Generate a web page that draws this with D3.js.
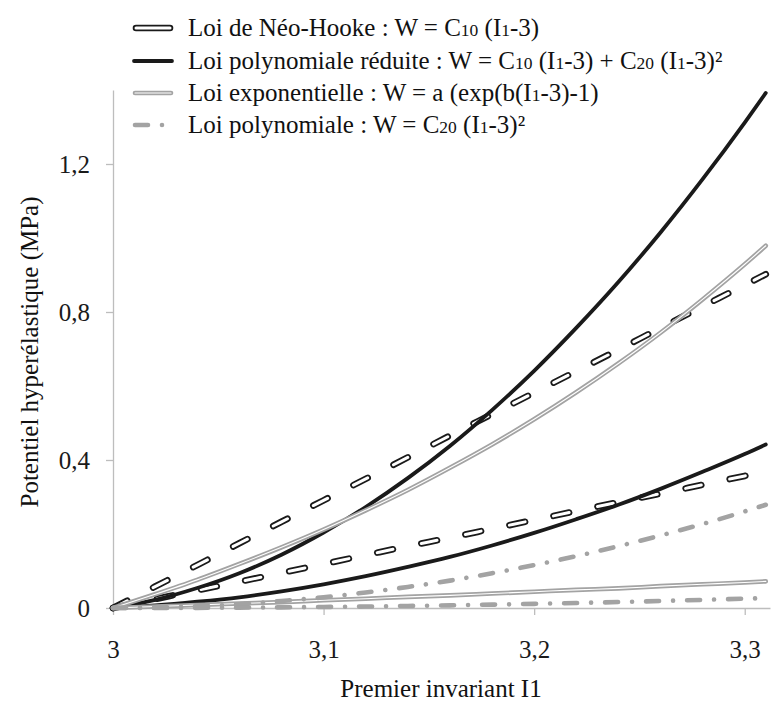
<!DOCTYPE html>
<html><head><meta charset="utf-8">
<script src="https://cdn.jsdelivr.net/npm/d3@7"></script>
<style>body{margin:0;background:#fff}svg{display:block}</style>
</head><body><svg id="c" width="777" height="702"></svg>
<script>
// ---- data ----
const I1 = [3.00,3.02,3.04,3.06,3.08,3.10,3.12,3.14,3.16,3.18,3.20,3.22,3.24,3.26,3.28,3.30,3.31];
const neoHookeA = [0,0.058,0.116,0.175,0.233,0.291,0.349,0.407,0.466,0.524,0.582,0.640,0.698,0.757,0.815,0.873,0.902];
const neoHookeB = [0,0.024,0.048,0.071,0.095,0.119,0.143,0.167,0.190,0.214,0.238,0.262,0.286,0.309,0.333,0.357,0.369];
const polyRedA = [0,0.022,0.054,0.094,0.144,0.204,0.273,0.351,0.438,0.535,0.641,0.757,0.881,1.015,1.159,1.312,1.392];
const polyRedB = [0,0.007,0.017,0.029,0.045,0.064,0.086,0.111,0.138,0.169,0.203,0.240,0.279,0.322,0.368,0.416,0.442];
const expA = [0,0.037,0.076,0.119,0.164,0.212,0.264,0.319,0.379,0.442,0.510,0.583,0.661,0.744,0.834,0.929,0.979];
const expB = [0,0.004,0.008,0.012,0.016,0.021,0.025,0.030,0.034,0.039,0.044,0.049,0.053,0.059,0.064,0.069,0.072];
const polyA = [0,0.001,0.005,0.010,0.019,0.029,0.042,0.057,0.074,0.094,0.116,0.140,0.167,0.196,0.227,0.261,0.279];
const polyB = [0,0.0001,0.0004,0.0010,0.0018,0.0028,0.0040,0.0055,0.0072,0.0091,0.0112,0.0136,0.0161,0.0189,0.0220,0.0252,0.0269];
const xTicks = [3, 3.1, 3.2, 3.3];
const xTickLabels = ["3", "3,1", "3,2", "3,3"];
const yTicks = [0, 0.4, 0.8, 1.2];
const yTickLabels = ["0", "0,4", "0,8", "1,2"];

const FONT = "'Liberation Serif','Times New Roman',serif";
const FS = 25, SUB = 17.5;
const GRAY = "#a3a3a3", BLACK = "#1a1a1a", AXIS = "#bdbdbd";

const svg = d3.select("#c");
const x = d3.scaleLinear().domain([3, 3.312]).range([113, 770]);
const y = d3.scaleLinear().domain([0, 1.4]).range([608, 90]);

// axes
const gx = svg.append("g").attr("transform", "translate(0,608)")
  .call(d3.axisBottom(x).tickValues(xTicks).tickFormat((d,i)=>xTickLabels[i]).tickSize(7).tickSizeOuter(0).tickPadding(25));
const gy = svg.append("g").attr("transform", "translate(113,0)")
  .call(d3.axisLeft(y).tickValues(yTicks).tickFormat((d,i)=>yTickLabels[i]).tickSize(7).tickSizeOuter(0).tickPadding(16));
[gx, gy].forEach(g => {
  g.selectAll("path,line").attr("stroke", AXIS).attr("stroke-width", 1.3);
  g.selectAll("text").attr("font-family", FONT).attr("font-size", FS).attr("fill", "#1a1a1a");
});

const line = d3.line().x((d,i)=>x(I1[i])).y(d=>y(d)).curve(d3.curveMonotoneX);
const plot = svg.append("g");

function hollowDash(data) {
  plot.append("path").attr("d", line(data)).attr("fill","none").attr("stroke", BLACK)
    .attr("stroke-width", 6.6).attr("stroke-linecap","round").attr("stroke-dasharray","16,29");
  plot.append("path").attr("d", line(data)).attr("fill","none").attr("stroke", "#fff")
    .attr("stroke-width", 3).attr("stroke-linecap","round").attr("stroke-dasharray","16,29");
}
function solidBlack(data) {
  plot.append("path").attr("d", line(data)).attr("fill","none").attr("stroke", BLACK)
    .attr("stroke-width", 3.8).attr("stroke-linecap","round");
}
function grayDouble(data) {
  plot.append("path").attr("d", line(data)).attr("fill","none").attr("stroke", GRAY)
    .attr("stroke-width", 4.6).attr("stroke-linecap","round");
  plot.append("path").attr("d", line(data)).attr("fill","none").attr("stroke", "#fff")
    .attr("stroke-width", 1.1).attr("stroke-linecap","round");
}
function grayDashDot(data) {
  plot.append("path").attr("d", line(data)).attr("fill","none").attr("stroke", GRAY)
    .attr("stroke-width", 4.6).attr("stroke-linecap","round").attr("stroke-dasharray","13,14,0.01,14");
}
hollowDash(neoHookeA); hollowDash(neoHookeB);
solidBlack(polyRedA); solidBlack(polyRedB);
grayDouble(expA); grayDouble(expB);
grayDashDot(polyA); grayDashDot(polyB);

// legend
const legendRows = [
  {style:"hollow", parts:[["Loi de Néo-Hooke : W = C"],["10",1],[" (I"],["1",1],["-3)"]]},
  {style:"black", parts:[["Loi polynomiale réduite : W = C"],["10",1],[" (I"],["1",1],["-3) + C"],["20",1],[" (I"],["1",1],["-3)²"]]},
  {style:"gray2", parts:[["Loi exponentielle : W = a (exp(b(I"],["1",1],["-3)-1)"]]},
  {style:"dashdot", parts:[["Loi polynomiale : W = C"],["20",1],[" (I"],["1",1],["-3)²"]]}
];
const legY = [28, 61, 93, 125];
legendRows.forEach((r, i) => {
  const ly = legY[i];
  const g = svg.append("g");
  const x1 = 136, x2 = 170;
  if (r.style === "hollow") {
    g.append("line").attr("x1",x1).attr("x2",x2).attr("y1",ly).attr("y2",ly).attr("stroke",BLACK).attr("stroke-width",6.6).attr("stroke-linecap","round");
    g.append("line").attr("x1",x1).attr("x2",x2).attr("y1",ly).attr("y2",ly).attr("stroke","#fff").attr("stroke-width",3).attr("stroke-linecap","round");
  } else if (r.style === "black") {
    g.append("line").attr("x1",x1-2).attr("x2",x2+2).attr("y1",ly).attr("y2",ly).attr("stroke",BLACK).attr("stroke-width",3.8).attr("stroke-linecap","round");
  } else if (r.style === "gray2") {
    g.append("line").attr("x1",x1-1).attr("x2",x2+1).attr("y1",ly).attr("y2",ly).attr("stroke",GRAY).attr("stroke-width",4.6).attr("stroke-linecap","round");
    g.append("line").attr("x1",x1-1).attr("x2",x2+1).attr("y1",ly).attr("y2",ly).attr("stroke","#fff").attr("stroke-width",1.1).attr("stroke-linecap","round");
  } else {
    g.append("line").attr("x1",x1-1).attr("x2",x2+2).attr("y1",ly).attr("y2",ly).attr("stroke",GRAY).attr("stroke-width",4.6).attr("stroke-linecap","round").attr("stroke-dasharray","13,14,0.01,14");
  }
  const t = g.append("text").attr("x", 188).attr("y", ly + 8).attr("font-family", FONT).attr("font-size", FS).attr("fill", "#111");
  r.parts.forEach(p => {
    const s = t.append("tspan").text(p[0]);
    if (p[1]) s.attr("font-size", SUB);
  });
});

// axis titles
svg.append("text").attr("x", 441).attr("y", 697).attr("text-anchor","middle")
  .attr("font-family", FONT).attr("font-size", FS).attr("fill","#111").text("Premier invariant I1");
svg.append("text").attr("transform","translate(38,352) rotate(-90)").attr("text-anchor","middle")
  .attr("font-family", FONT).attr("font-size", FS).attr("fill","#111").text("Potentiel hyperélastique (MPa)");
</script></body></html>
